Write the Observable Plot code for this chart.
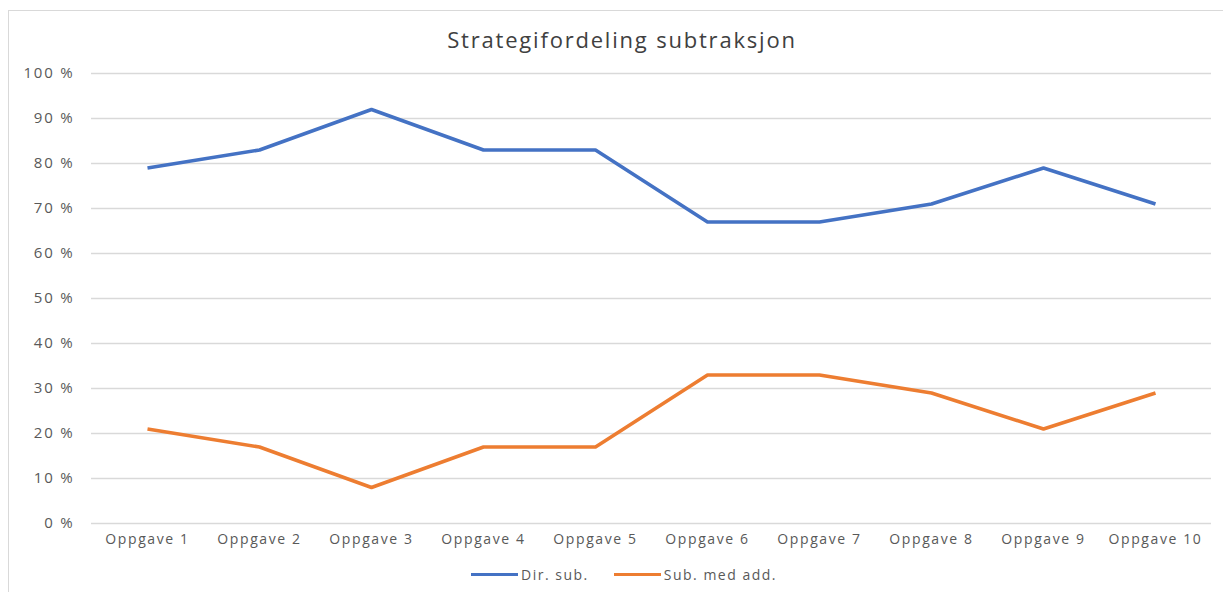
<!DOCTYPE html>
<html>
<head>
<meta charset="utf-8">
<script src="https://cdn.jsdelivr.net/npm/d3@7"></script>
<script src="https://cdn.jsdelivr.net/npm/@observablehq/plot@0.6"></script>
<style>
  html, body { margin: 0; padding: 0; background: #fff; }
  #wrap { position: relative; width: 1223px; height: 592px; overflow: hidden; font-family: "Open Sans", Lato, sans-serif; }
  #frame { position: absolute; left: 8px; top: 10px; width: 1240px; height: 600px; border: 1px solid #d9d9d9; box-sizing: border-box; }
  #title { position: absolute; left: 0; width: 1244px; top: 24px; text-align: center; font-size: 22px; color: #404040; letter-spacing: 1.8px; }
  #chart { position: absolute; left: 0; top: 0; }
  #legend { position: absolute; top: 565px; left: 471px; font-size: 14px; letter-spacing: 1.5px; color: #595959; display: flex; align-items: center; white-space: nowrap; }
  .sw { display: inline-block; width: 47px; height: 3.5px; margin-right: 3px; }
  .item { display: flex; align-items: center; margin-right: 25px; }
  #chart svg text { letter-spacing: 1.6px; }
  #chart svg g[aria-label="y-axis tick label"] text { letter-spacing: 1.8px; font-size: 15px; }
</style>
</head>
<body>
<div id="wrap">
  <div id="frame"></div>
  <div id="chart"></div>
  <div id="title">Strategifordeling subtraksjon</div>
  <div id="legend"></div>
</div>
<script>
const categories = ["Oppgave 1","Oppgave 2","Oppgave 3","Oppgave 4","Oppgave 5","Oppgave 6","Oppgave 7","Oppgave 8","Oppgave 9","Oppgave 10"];
const dirSub = [79, 83, 92, 83, 83, 67, 67, 71, 79, 71];
const subMedAdd = [21, 17, 8, 17, 17, 33, 33, 29, 21, 29];
const seriesNames = ["Dir. sub.", "Sub. med add."];
const seriesColors = ["#4472C4", "#ED7D31"];
const yTicks = [0,10,20,30,40,50,60,70,80,90,100];

const rows = [];
categories.forEach((c, i) => {
  rows.push({cat: c, value: dirSub[i], series: seriesNames[0]});
  rows.push({cat: c, value: subMedAdd[i], series: seriesNames[1]});
});

const chart = Plot.plot({
  width: 1223,
  height: 560,
  marginLeft: 91,
  marginRight: 12,
  marginTop: 73,
  marginBottom: 37,
  style: {background: "transparent", fontFamily: "'Open Sans', Lato, sans-serif", fontSize: "14px", color: "#595959"},
  x: {type: "point", domain: categories, padding: 0.5, label: null, tickSize: 0, tickPadding: 11},
  y: {domain: [0, 100], ticks: yTicks, tickFormat: d => d + " %", label: null, tickSize: 0, tickPadding: 17},
  color: {domain: seriesNames, range: seriesColors},
  marks: [
    Plot.ruleY(yTicks, {stroke: "#d9d9d9", strokeWidth: 1.5}),
    Plot.line(rows, {x: "cat", y: "value", z: "series", stroke: "series", strokeWidth: 3.5, strokeLinejoin: "round", strokeLinecap: "butt"})
  ]
});
chart.querySelectorAll("text").forEach(t => t.setAttribute("fill", "#595959"));
document.getElementById("chart").appendChild(chart);

const legend = document.getElementById("legend");
seriesNames.forEach((n, i) => {
  const it = document.createElement("div");
  it.className = "item";
  const sw = document.createElement("span");
  sw.className = "sw";
  sw.style.background = seriesColors[i];
  it.appendChild(sw);
  const t = document.createElement("span");
  t.textContent = n;
  it.appendChild(t);
  legend.appendChild(it);
});
</script>
</body>
</html>
